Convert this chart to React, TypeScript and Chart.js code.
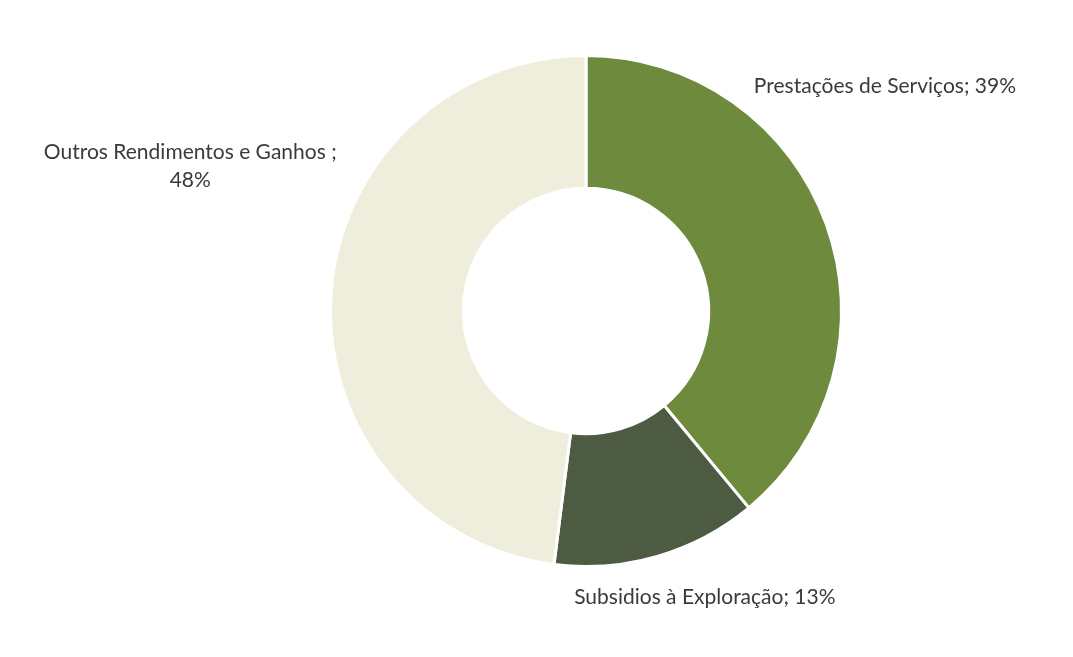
import React, { useEffect, useRef } from "react";
import { Chart, registerables } from "chart.js";

Chart.register(...registerables);

const categories = ["Prestações de Serviços", "Subsidios à Exploração", "Outros Rendimentos e Ganhos "];
const values = [39, 13, 48];
const labelLines = [
  ["Prestações de Serviços; 39%"],
  ["Subsidios à Exploração; 13%"],
  ["Outros Rendimentos e Ganhos ;", "48%"],
];
const colors = ["#6d8a3d", "#4d5b43", "#efeedc"];
// label offsets relative to the doughnut centre, in units of outer radius
const labelOffsets = [
  [1.17, -0.88],
  [0.465, 1.12],
  [-1.549, -0.565],
];

const labelPlugin = {
  id: "sliceLabels",
  afterDraw(chart: any) {
    const ctx = chart.ctx;
    const meta = chart.getDatasetMeta(0);
    ctx.save();
    ctx.font = '21px Lato, "Open Sans", sans-serif';
    ctx.fillStyle = "#3a3a3a";
    ctx.textAlign = "center";
    ctx.textBaseline = "middle";
    meta.data.forEach((arc: any, i: number) => {
      const r = arc.outerRadius;
      const x = arc.x + labelOffsets[i][0] * r;
      const y = arc.y + labelOffsets[i][1] * r;
      const lines = labelLines[i];
      lines.forEach((t, j) => {
        ctx.fillText(t, x, y + (j - (lines.length - 1) / 2) * 28);
      });
    });
    ctx.restore();
  },
};

export default function App() {
  const ref = useRef<HTMLCanvasElement>(null);
  useEffect(() => {
    if (!ref.current) return;
    const chart = new Chart(ref.current, {
      type: "doughnut",
      data: {
        labels: categories,
        datasets: [
          {
            data: values,
            backgroundColor: colors,
            borderColor: "#ffffff",
            borderWidth: 3,
          },
        ],
      },
      options: {
        responsive: false,
        animation: false,
        cutout: "48%",
        layout: { padding: { left: 329, right: 230, top: 54, bottom: 89 } },
        plugins: {
          legend: { display: false },
          tooltip: { enabled: false },
        },
      },
      plugins: [labelPlugin],
    });
    return () => chart.destroy();
  }, []);
  return (
    <div style={{ position: "fixed", left: 0, top: 0, width: 1073, height: 657, background: "#fff" }}>
      <canvas ref={ref} width={1073} height={657} />
    </div>
  );
}
